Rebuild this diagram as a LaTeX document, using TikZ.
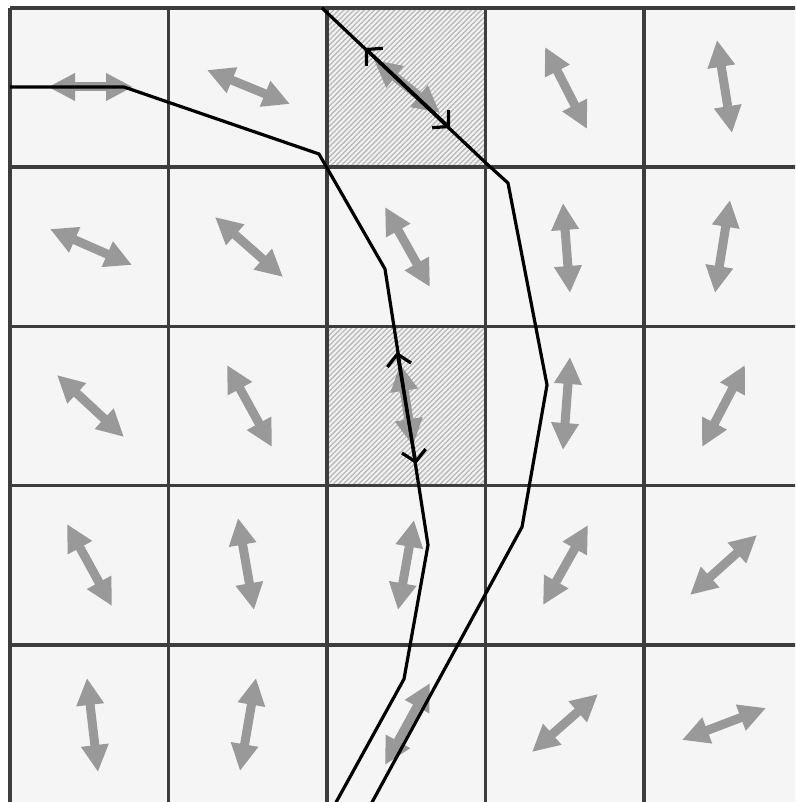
\documentclass[tikz,border=0pt]{standalone}
\usetikzlibrary{arrows.meta,patterns.meta}

\tikzset{
  gridline/.style={black!76,line width=3.4pt},
  hatchcell/.style={fill=black!5,postaction={pattern={Lines[angle=45,distance=3.6pt,line width=1.3pt]},pattern color=black!28}},
  dirarrow/.style={black!40,line width=9pt,{Triangle[length=27pt,width=26pt]}-{Triangle[length=27pt,width=26pt]}},
  streamline/.style={black,line width=3.2pt,line join=round},
  flowarrow/.style={black,line width=3.2pt,{Straight Barb[length=11pt,width=24pt]}-{Straight Barb[length=11pt,width=24pt]}}
}

\begin{document}
\begin{tikzpicture}[x=1pt,y=-1pt]
  \useasboundingbox (0,0) rectangle (795,802);
  \begin{scope}
    \clip (0,0) rectangle (795,802);
    \fill[black!4] (10,8) rectangle (806,806);

    % the two marked cells
    \path[hatchcell] (327,8) rectangle (485.5,167.2);
    \path[hatchcell] (327,326.4) rectangle (485.5,485.6);

    % grid
    \foreach \i in {0,...,5} {
      \draw[gridline] (10+158.5*\i,8) -- (10+158.5*\i,806);
      \draw[gridline] (10,8+159.2*\i) -- (806,8+159.2*\i);
    }

    % direction field
    \foreach \xa/\ya/\xb/\yb in {
        48/87/133/87, 207/70/290/104, 374/60/440/113, 545/47/587/129, 717/40/732/133,
        50/229/132/265, 215/217/283/277, 385/207/430/287, 563/203/570/293, 730/200/715/293,
        57/375/124/437, 227/365/272/447, 400/364/413/446, 570/357/563/450, 745/365/702/447,
        67/524/112/606, 238/518/254/610, 414/520/398/610, 588/525/543/605, 757/535/690/595,
        87/678/98/772, 256/678/240/771, 430/683/385/765, 598/694/532/752, 766/708/682/740} {
      \draw[dirarrow] (\xa,\ya) -- (\xb,\yb);
    }

    % streamlines
    \draw[streamline] (10,87) -- (124,87) -- (319,154) -- (385,269) -- (428,545)
      -- (404,679) -- (334,806);
    \draw[streamline] (322,8) -- (487,164) -- (508,183) -- (547,385) -- (522,527)
      -- (370,806);

    \draw[flowarrow] (365,48) -- (450,128);
    \draw[flowarrow] (397,352) -- (416,464);
  \end{scope}
\end{tikzpicture}
\end{document}
